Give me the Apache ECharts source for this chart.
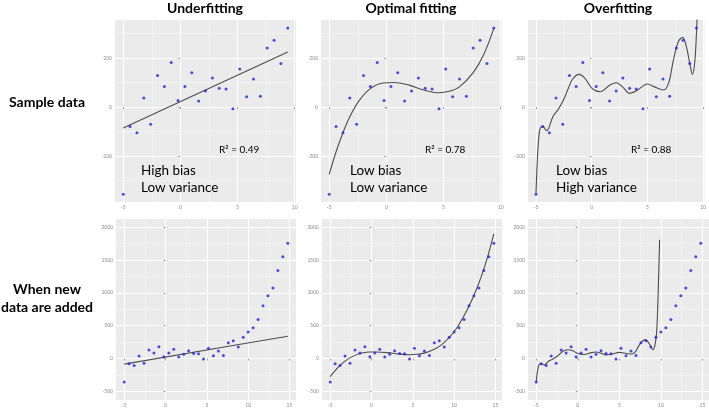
<!DOCTYPE html>
<html>
<head>
<meta charset="utf-8">
<script src="https://cdn.jsdelivr.net/npm/echarts@6/dist/echarts.min.js"></script>
<style>
  html, body { margin: 0; padding: 0; background: #ffffff; }
  #chart { width: 709px; height: 408px; }
</style>
</head>
<body>
<div id="chart"></div>
<script>
// ── Data ───────────────────────────────────────────────────────────────────
// x positions of the observations; the first 25 are the original sample,
// the remaining 9 are the data added later
const xValues = [-5, -4.4, -3.8, -3.2, -2.6, -2, -1.4, -0.8, -0.2, 0.4, 1, 1.6, 2.2, 2.8, 3.4,
  4, 4.6, 5.2, 5.8, 6.4, 7, 7.6, 8.2, 8.8, 9.4, 10, 10.6, 11.2, 11.8, 12.4, 13, 13.6, 14.2, 14.8];
const sampleY = [-356, -80, -105, 37, -71, 128, 84, 181, 26, 84, 140, 24, 65, 118, 76,
  73, -7, 155, 42, 114, 44, 241, 272, 177, 322];
const addedY = [405, 470, 595, 805, 955, 1075, 1340, 1550, 1755];

// fitted curves (sampled along the drawn lines)
const underfitX = [-5, 9.4, 14.8];
const underfitY = [-86, 224, 340];
const optimalX = [-5, -4.4, -3.8, -3.2, -2.4, -1.4, -0.3, 0.6, 2, 3.2, 4.6, 5.5, 6.4, 7.6, 8.5,
  9.4, 10.4, 11.6, 12.8, 13.8, 14.8];
const optimalY = [-275, -183, -105, -40, 25, 75, 98, 100, 89, 70, 58, 64, 82, 140, 212,
  320, 480, 745, 1085, 1445, 1900];
const overfitX = [-5, -4.88, -4.71, -4.5, -4.3, -4.06, -3.86, -3.48, -3.04, -2.6, -2.16, -1.73,
  -1.14, -0.61, 0.03, 0.76, 1.64, 2.22, 2.81, 3.39, 4.12, 5.0, 5.59, 6.46, 6.9, 7.34, 7.78,
  8.16, 8.5, 8.8, 9.04, 9.24, 9.39, 9.5, 9.65, 9.85];
const overfitY = [-352, -216, -107, -80, -83, -97, -87, -39, -12, 22, 69, 113,
  133, 117, 76, 62, 90, 99, 80, 56, 69, 94, 83, 69, 97, 192, 267,
  284, 246, 178, 133, 178, 287, 420, 900, 1810];

// axis ticks
const xTicksTop = [-5, 0, 5, 10];
const xMinorTop = [-2.5, 2.5, 7.5];
const xTicksBottom = [-5, 0, 5, 10, 15];
const xMinorBottom = [-2.5, 2.5, 7.5, 12.5];
const yTicksTop = [-200, 0, 200];
const yMinorTop = [-300, -100, 100, 300];
const yTicksBottom = [-500, 0, 500, 1000, 1500, 2000];
const yMinorBottom = [-250, 250, 750, 1250, 1750];

// texts
const colTitles = ['Underfitting', 'Optimal fitting', 'Overfitting'];
const rowTitles = [['Sample data'], ['When new', 'data are added']];
const rSquared = ['0.49', '0.78', '0.88'];
const biasTexts = [['High bias', 'Low variance'], ['Low bias', 'Low variance'], ['Low bias', 'High variance']];

// ── Layout ────────────────────────────────────────────────────────────────
const PANELS = [
  { left: 115, top: 20, width: 181, height: 182 },
  { left: 321, top: 20, width: 181, height: 182 },
  { left: 528, top: 20, width: 181, height: 182 },
  { left: 116, top: 219, width: 180, height: 183 },
  { left: 322, top: 219, width: 180, height: 183 },
  { left: 528, top: 219, width: 181, height: 183 }
];
const X_RANGE_TOP = [-5.72, 10.12];
const X_RANGE_BOTTOM = [-5.99, 15.79];
const Y_RANGE_TOP = [-388, 355];
const Y_RANGE_BOTTOM = [-632, 2125];

const PANEL_BG = '#ebebeb';
const POINT_COLOR = '#2424cf';
const LINE_COLOR = '#4d4d4d';
const FONT = 'Lato, "Open Sans", sans-serif';

function zip(xs, ys) {
  return ys.map((y, i) => [xs[i], y]);
}

// ── Axes: a visible axis for major lines + a hidden one for minor lines ──
const grids = [], xAxes = [], yAxes = [], series = [];

function addAxes(gi, isX, range, major, minor) {
  const majorAxis = {
    type: 'value', gridIndex: gi, min: range[0], max: range[1],
    axisLine: { show: false },
    axisTick: { show: true, length: 2, customValues: major, lineStyle: { color: '#8a8a8a', width: 0.8 } },
    axisLabel: { show: true, customValues: major, fontSize: 5, color: '#8a8a8a', margin: 3,
      fontFamily: FONT, formatter: v => String(v) },
    splitLine: { show: true, lineStyle: { color: '#ffffff', width: 1 } },
    z: 1
  };
  const minorAxis = {
    type: 'value', gridIndex: gi, min: range[0], max: range[1],
    position: isX ? 'top' : 'right',
    axisLine: { show: false },
    axisTick: { show: false, customValues: minor },
    axisLabel: { show: false },
    splitLine: { show: true, lineStyle: { color: '#f5f5f5', width: 0.7 } },
    z: 0
  };
  const list = isX ? xAxes : yAxes;
  list.push(majorAxis, minorAxis);
  return list.length - 2;
}

PANELS.forEach((p, i) => {
  grids.push({ left: p.left, top: p.top, width: p.width, height: p.height,
    show: true, backgroundColor: PANEL_BG, borderWidth: 0, containLabel: false });
  const top = i < 3;
  const xi = addAxes(i, true, top ? X_RANGE_TOP : X_RANGE_BOTTOM,
    top ? xTicksTop : xTicksBottom, top ? xMinorTop : xMinorBottom);
  const yi = addAxes(i, false, top ? Y_RANGE_TOP : Y_RANGE_BOTTOM,
    top ? yTicksTop : yTicksBottom, top ? yMinorTop : yMinorBottom);

  // observations
  const pts = top ? zip(xValues, sampleY) : zip(xValues, sampleY.concat(addedY));
  series.push({
    type: 'scatter', xAxisIndex: xi, yAxisIndex: yi, data: pts,
    symbol: 'circle', symbolSize: 3, itemStyle: { color: POINT_COLOR },
    silent: true, z: 3
  });

  // fitted model
  const col = i % 3;
  let fit;
  if (col === 0) fit = top ? zip(underfitX, underfitY).slice(0, 2) : zip(underfitX, underfitY);
  else if (col === 1) fit = top ? zip(optimalX, optimalY).filter(d => d[0] <= 9.4) : zip(optimalX, optimalY);
  else fit = zip(overfitX, overfitY);
  series.push({
    type: 'line', xAxisIndex: xi, yAxisIndex: yi, data: fit,
    showSymbol: false, smooth: col === 0 ? false : 0.35, clip: true,
    lineStyle: { color: LINE_COLOR, width: 1.1 }, silent: true, z: 2
  });
});

// ── Texts ─────────────────────────────────────────────────────────────────
const graphics = [];
function label(x, y, text, font, align) {
  graphics.push({ type: 'text', x: x, y: y, z: 10, style: { text: text, font: font,
    fill: '#000', align: align || 'center', verticalAlign: 'middle' } });
}
[205, 411, 618].forEach((cx, i) => label(cx, 8, colTitles[i], 'bold 14px ' + FONT));
label(47, 102, rowTitles[0][0], 'bold 14px ' + FONT);
label(47, 289, rowTitles[1][0], 'bold 14px ' + FONT);
label(47, 307, rowTitles[1][1], 'bold 14px ' + FONT);

[[219, 141], [425, 350], [631, 556]].forEach((pos, i) => {
  label(pos[0], 150, 'R\u00b2 = ' + rSquared[i], '10px ' + FONT, 'left');
  label(pos[1], 171, biasTexts[i][0], '13.5px ' + FONT, 'left');
  label(pos[1], 188, biasTexts[i][1], '13.5px ' + FONT, 'left');
});

const chart = echarts.init(document.getElementById('chart'), null, { renderer: 'canvas' });
chart.setOption({
  backgroundColor: '#ffffff',
  animation: false,
  grid: grids,
  xAxis: xAxes,
  yAxis: yAxes,
  series: series,
  graphic: graphics
});
</script>
</body>
</html>
